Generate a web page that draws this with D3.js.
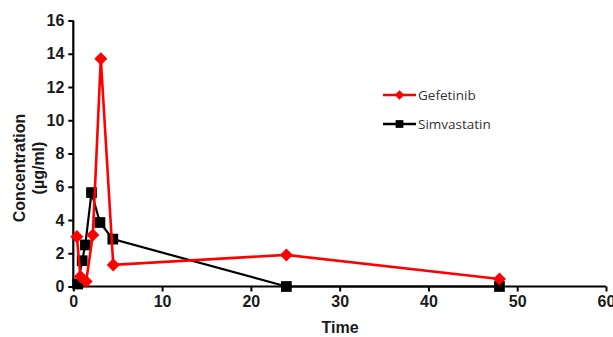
<!DOCTYPE html>
<html>
<head>
<meta charset="utf-8">
<script src="https://cdn.jsdelivr.net/npm/d3@7"></script>
<style>
  body { margin: 0; background: #fff; }
  svg { display: block; }
</style>
</head>
<body>
<svg id="chart" width="613" height="337"></svg>
<script>
const gefTime = [0.4, 0.8, 1.45, 2.2, 3.1, 4.5, 24, 48];
const gefConc = [3.0, 0.6, 0.3, 3.1, 13.7, 1.3, 1.9, 0.45];
const simTime = [0.5, 1.0, 1.35, 2.05, 3.0, 4.45, 24, 48];
const simConc = [0.15, 1.55, 2.5, 5.65, 3.85, 2.85, 0, 0];
const xTicks = [0, 10, 20, 30, 40, 50, 60];
const yTicks = [0, 2, 4, 6, 8, 10, 12, 14, 16];

const svg = d3.select('#chart');
const font = '"Liberation Sans", Arial, sans-serif';

const x = d3.scaleLinear().domain([0, 60]).range([73.3, 606]);
const y = d3.scaleLinear().domain([0, 16]).range([286.5, 20.5]);

// axes
const xAxis = svg.append('g')
	.attr('transform', `translate(0,${y(0)})`)
	.call(d3.axisBottom(x).tickValues(xTicks).tickSize(5).tickPadding(4).tickSizeOuter(0));
const yAxis = svg.append('g')
	.attr('transform', `translate(${x(0)},0)`)
	.call(d3.axisLeft(y).tickValues(yTicks).tickSize(5).tickPadding(4).tickSizeOuter(0));

[xAxis, yAxis].forEach(a => {
	a.select('.domain').attr('stroke', '#000').attr('stroke-width', 2.2);
	a.selectAll('.tick line').attr('stroke', '#000').attr('stroke-width', 2);
	a.selectAll('.tick text')
		.attr('fill', '#1a1a1a')
		.style('font', `bold 16px ${font}`);
});
xAxis.select('.domain').attr('d', `M${x(0)},0H${x(60)}`);
yAxis.select('.domain').attr('d', `M0,${y(0)}V${y(16)}`);

// axis titles
svg.append('text')
	.attr('x', 340).attr('y', 333)
	.attr('text-anchor', 'middle')
	.attr('fill', '#1a1a1a')
	.style('font', `bold 16px ${font}`)
	.text('Time');

const yTitle = svg.append('text')
	.attr('transform', 'translate(25,168) rotate(-90)')
	.attr('text-anchor', 'middle')
	.attr('fill', '#1a1a1a')
	.style('font', `bold 16px ${font}`);
yTitle.append('tspan').attr('x', 0).attr('dy', 0).text('Concentration');
yTitle.append('tspan').attr('x', 0).attr('dy', 19).text('(µg/ml)');

// series
const series = [
	{ name: 'Gefetinib', time: gefTime, conc: gefConc, color: '#ff0000', rot: 45, size: 85, width: 2.6 },
	{ name: 'Simvastatin', time: simTime, conc: simConc, color: '#000000', rot: 0, size: 115, width: 2.2 }
];

const line = d3.line().x(d => x(d[0])).y(d => y(d[1]));

series.slice().reverse().forEach(s => {
	const pts = s.time.map((t, i) => [t, s.conc[i]]);
	svg.append('path')
		.datum(pts)
		.attr('fill', 'none')
		.attr('stroke', s.color)
		.attr('stroke-width', s.width)
		.attr('d', line);
	svg.append('g').selectAll('path')
		.data(pts)
		.enter().append('path')
		.attr('transform', d => `translate(${x(d[0])},${y(d[1])}) rotate(${s.rot})`)
		.attr('d', d3.symbol().type(d3.symbolSquare).size(s.size))
		.attr('fill', s.color);
});

// legend
const legend = svg.append('g');
series.forEach((s, i) => {
	const ly = 95 + i * 29;
	legend.append('line')
		.attr('x1', 383).attr('x2', 416)
		.attr('y1', ly).attr('y2', ly)
		.attr('stroke', s.color).attr('stroke-width', 2.6);
	legend.append('path')
		.attr('transform', `translate(399.5,${ly}) rotate(${s.rot})`)
		.attr('d', d3.symbol().type(d3.symbolSquare).size(s.rot ? 45 : 60))
		.attr('fill', s.color);
	legend.append('text')
		.attr('x', 418).attr('y', ly + 5)
		.attr('fill', '#333')
		.style('font', `13.5px "Open Sans", "Liberation Sans", sans-serif`)
		.text(s.name);
});
</script>
</body>
</html>
